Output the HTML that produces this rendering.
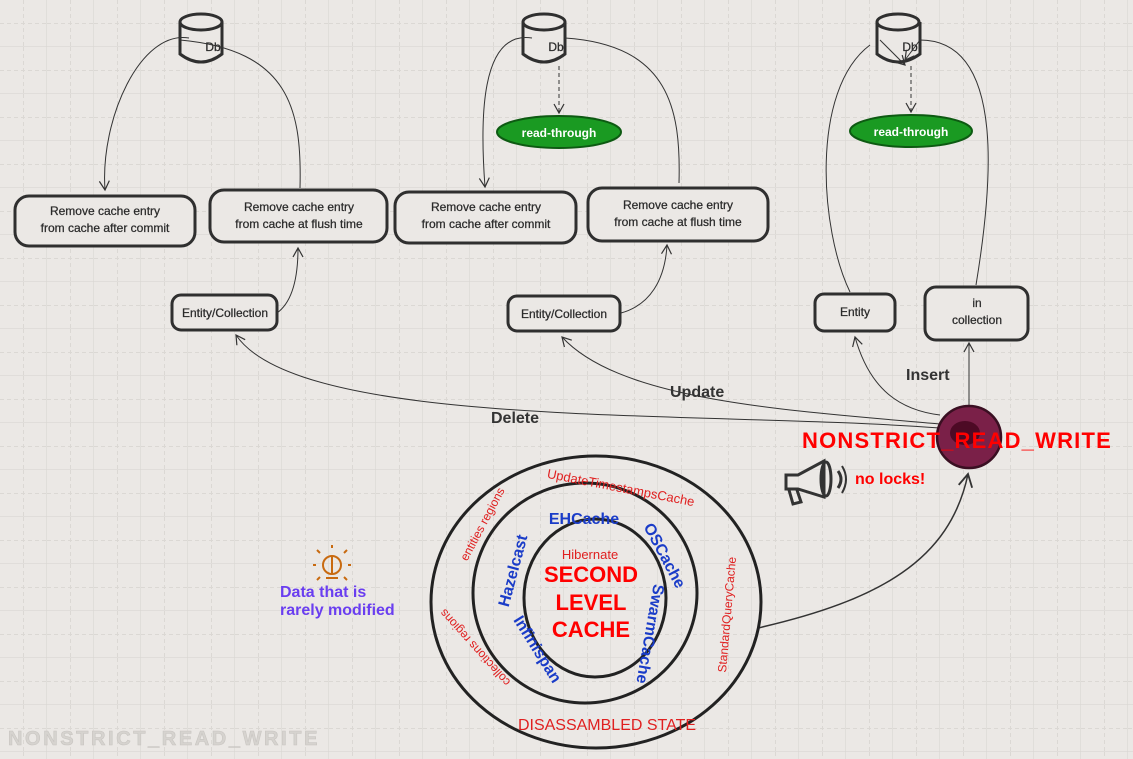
<!DOCTYPE html>
<html><head><style>
body{margin:0;width:1133px;height:759px;overflow:hidden;background:#ebe8e5;}
svg{display:block}
text{font-family:"Liberation Sans",sans-serif;}
</style></head><body>
<svg width="1133" height="759" viewBox="0 0 1133 759">
<defs>
<pattern id="g" width="47" height="47" patternUnits="userSpaceOnUse">
<path d="M23.5 0V47M0 23.5H47" stroke="#dbd8d4" stroke-width="1" stroke-dasharray="4 3" fill="none"/>
<path d="M47 0V47M0 47H47" stroke="#d9d6d2" stroke-width="1.2" fill="none"/>
</pattern>
<marker id="a" viewBox="0 0 12 12" refX="10" refY="6" markerWidth="12" markerHeight="12" orient="auto" markerUnits="userSpaceOnUse"><path d="M1 1L10 6L1 11" fill="none" stroke="#333" stroke-width="1.2"/></marker>
<marker id="a2" viewBox="0 0 14 14" refX="12" refY="7" markerWidth="16" markerHeight="16" orient="auto" markerUnits="userSpaceOnUse"><path d="M1 1L12 7L1 13" fill="none" stroke="#333" stroke-width="1.6"/></marker>
</defs>
<rect width="1133" height="759" fill="url(#g)"/>
<g fill="#ebe8e5" stroke="#2f2f2f" stroke-width="3">
<path d="M180 22V54Q201 70 222 54V22"/><ellipse cx="201" cy="22" rx="21" ry="8"/>
<path d="M523 22V54Q544 70 565 54V22"/><ellipse cx="544" cy="22" rx="21" ry="8"/>
<path d="M877 22V54Q898 70 920 54V22"/><ellipse cx="898" cy="22" rx="21" ry="8"/>
<rect x="15" y="196" width="180" height="50" rx="14"/>
<rect x="210" y="190" width="177" height="52" rx="14"/>
<rect x="395" y="192" width="181" height="51" rx="14"/>
<rect x="588" y="188" width="180" height="53" rx="14"/>
<rect x="172" y="295" width="105" height="35" rx="9"/>
<rect x="508" y="296" width="112" height="35" rx="9"/>
<rect x="815" y="294" width="80" height="37" rx="9"/>
<rect x="925" y="287" width="103" height="53" rx="11"/>
</g>
<g font-size="12" fill="#2a2a2a" text-anchor="middle" stroke="#2a2a2a" stroke-width="0.25">
<text x="213" y="51">Db</text><text x="556" y="51">Db</text><text x="910" y="51">Db</text>
<text x="105" y="215">Remove cache entry</text><text x="105" y="232">from cache after commit</text>
<text x="299" y="211">Remove cache entry</text><text x="299" y="228">from cache at flush time</text>
<text x="486" y="211">Remove cache entry</text><text x="486" y="228">from cache after commit</text>
<text x="678" y="209">Remove cache entry</text><text x="678" y="226">from cache at flush time</text>
<text x="225" y="317">Entity/Collection</text>
<text x="564" y="318">Entity/Collection</text>
<text x="855" y="316">Entity</text>
<text x="977" y="307">in</text><text x="977" y="324">collection</text>
</g>
<ellipse cx="559" cy="132" rx="62" ry="16" fill="#1a9a22" stroke="#0d5a12" stroke-width="2"/>
<ellipse cx="911" cy="131" rx="61" ry="16" fill="#1a9a22" stroke="#0d5a12" stroke-width="2"/>
<text x="559" y="137" font-size="12" font-weight="bold" fill="#fff" text-anchor="middle">read-through</text>
<text x="911" y="136" font-size="12" font-weight="bold" fill="#fff" text-anchor="middle">read-through</text>
<g fill="none" stroke="#333" stroke-width="1">
<path d="M559 66V113" stroke-dasharray="4 3" marker-end="url(#a)"/>
<path d="M911 66V112" stroke-dasharray="4 3" marker-end="url(#a)"/>
<path d="M189 38C140 30 100 120 105 190" marker-end="url(#a)"/>
<path d="M300 188C302 110 290 50 180 40"/>
<path d="M277 313C295 300 298 270 298 248" marker-end="url(#a)"/>
<path d="M532 38C480 30 480 120 485 187" marker-end="url(#a)"/>
<path d="M679 183C681 110 670 45 565 38"/>
<path d="M621 313C650 305 665 280 667 245" marker-end="url(#a)"/>
<path d="M850 292C820 230 810 90 870 45" />
<path d="M976 285C990 200 1010 40 920 40L905 60" marker-end="url(#a)"/>
<path d="M880 40L905 65" marker-end="url(#a)"/>
<path d="M940 428C700 410 300 430 236 335" marker-end="url(#a)"/>
<path d="M940 424C780 410 620 400 562 337" marker-end="url(#a)"/>
<path d="M940 415C900 410 870 390 855 337" marker-end="url(#a)"/>
<path d="M969 406V343" marker-end="url(#a)"/>
<path d="M758 628C880 600 950 560 968 474" stroke-width="1.5" marker-end="url(#a2)"/>
</g>
<g font-size="16" font-weight="bold" fill="#333">
<text x="491" y="423">Delete</text><text x="670" y="397">Update</text><text x="906" y="380">Insert</text>
</g>
<ellipse cx="969" cy="437" rx="32" ry="31" fill="#7a2048" stroke="#3a0f22" stroke-width="2.5"/>
<ellipse cx="965" cy="433" rx="15" ry="12" fill="#4d0a25"/>
<text x="957" y="448" font-size="22" font-weight="bold" fill="#f00" text-anchor="middle" letter-spacing="1.2">NONSTRICT_READ_WRITE</text>
<g fill="none" stroke="#333" stroke-width="3">
<path d="M786 475L798 475L824 461L824 497L798 489L786 489Z"/><ellipse cx="826" cy="479" rx="5" ry="17"/>
<path d="M797 490L801 502L793 504L789 490"/><path d="M838 471Q844 479 838 488"/><path d="M842 466Q850 479 842 493" stroke-width="2"/>
</g>
<text x="855" y="484" font-size="16" font-weight="bold" fill="#f00">no locks!</text>
<g stroke="#c86a10" fill="none" stroke-width="2">
<circle cx="332" cy="565" r="9"/><path d="M332 556V574" /><path d="M332 548V545M320 553L317 550M344 553L347 550M316 565H313M348 565H351M320 577L317 580M344 577L347 580M326 578H338"/>
</g>
<text x="280" y="597" font-size="16" font-weight="bold" fill="#6a3ef0">Data that is</text>
<text x="280" y="615" font-size="16" font-weight="bold" fill="#6a3ef0">rarely modified</text>
<g fill="none" stroke="#222" stroke-width="3">
<ellipse cx="596" cy="602" rx="165" ry="146"/>
<ellipse cx="585" cy="593" rx="112" ry="110"/>
<ellipse cx="595" cy="598" rx="71" ry="79"/>
</g>
<g text-anchor="middle">
<text x="590" y="559" font-size="13" fill="#e02020">Hibernate</text>
<g font-size="22" font-weight="bold" fill="#f00"><text x="591" y="582">SECOND</text><text x="591" y="610">LEVEL</text><text x="591" y="637">CACHE</text></g>
<text x="584" y="524" font-size="16" font-weight="bold" fill="#1a3cc8">EHCache</text>
<text font-size="16" font-weight="bold" fill="#1a3cc8" transform="translate(518 572) rotate(-75)">Hazelcast</text>
<text font-size="16" font-weight="bold" fill="#1a3cc8" transform="translate(533 652) rotate(58)">Infinispan</text>
<text font-size="16" font-weight="bold" fill="#1a3cc8" transform="translate(660 558) rotate(62)">OSCache</text>
<text font-size="16" font-weight="bold" fill="#1a3cc8" transform="translate(645 633) rotate(100)">SwarmCache</text>
<text font-size="13" fill="#e02020" transform="translate(620 492) rotate(11)">UpdateTimestampsCache</text>
<text font-size="12" fill="#e02020" transform="translate(486 526) rotate(-62)">entities regions</text>
<text font-size="12" fill="#e02020" transform="translate(478 645) rotate(-132)">collections regions</text>
<text font-size="12" fill="#e02020" transform="translate(731 615) rotate(-85)">StandardQueryCache</text>
<text x="607" y="730" font-size="16" fill="#e02020">DISASSAMBLED STATE</text>
</g>
<text x="8" y="745" font-size="20" font-weight="bold" fill="#d6d3cf" stroke="#c8c5c1" stroke-width="0.6" letter-spacing="2.6" font-family="Liberation Serif">NONSTRICT_READ_WRITE</text>
</svg>
</body></html>
